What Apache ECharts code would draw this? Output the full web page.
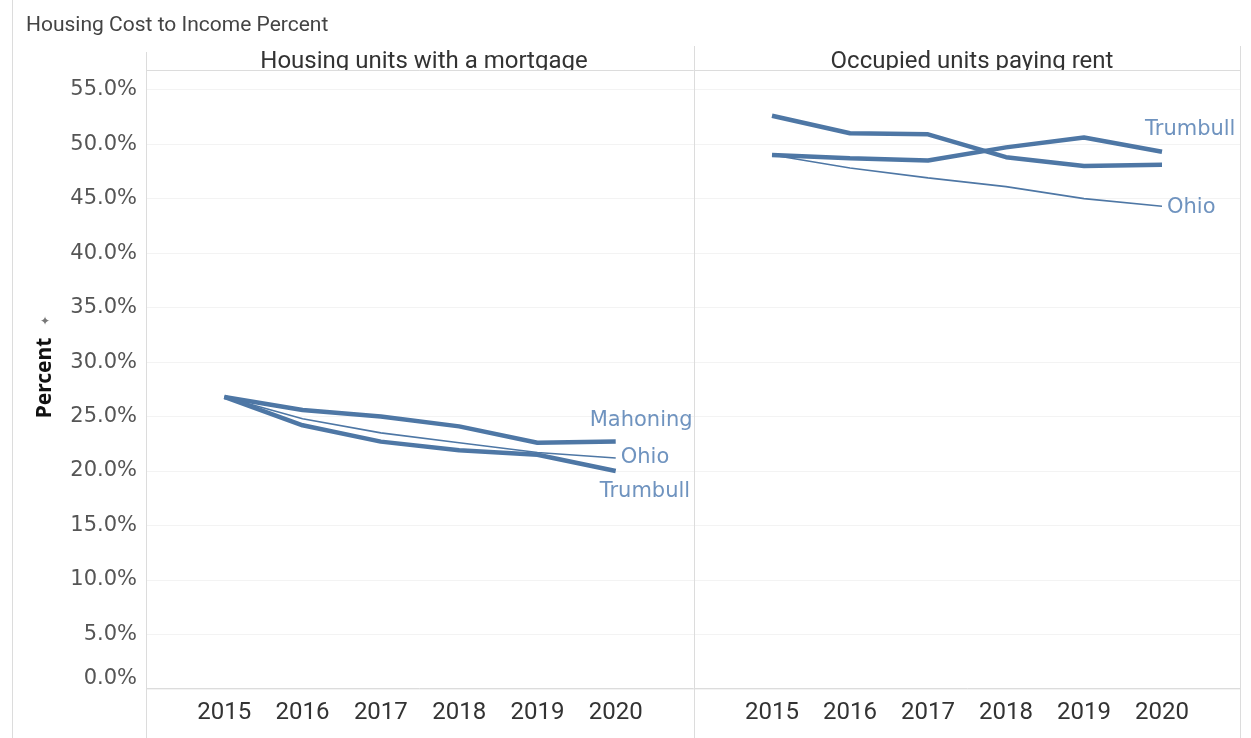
<!DOCTYPE html>
<html>
<head>
<meta charset="utf-8">
<script src="https://cdn.jsdelivr.net/npm/echarts@6/dist/echarts.min.js"></script>
<style>
  html, body { margin: 0; padding: 0; background: #fff; }
  #chart { width: 1251px; height: 738px; }
</style>
</head>
<body>
<div id="chart"></div>
<script>
  // data
  const years = [2015, 2016, 2017, 2018, 2019, 2020];
  const panels = ['Housing units with a mortgage', 'Occupied units paying rent'];

  const mortMahoning = [26.8, 25.6, 25.0, 24.1, 22.6, 22.7];
  const mortOhio = [26.8, 24.8, 23.5, 22.6, 21.7, 21.2];
  const mortTrumbull = [26.8, 24.2, 22.7, 21.9, 21.5, 20.0];

  const rentMahoning = [52.6, 51.0, 50.9, 48.8, 48.0, 48.1];
  const rentOhio = [49.0, 47.8, 46.9, 46.1, 45.0, 44.3];
  const rentTrumbull = [49.0, 48.7, 48.5, 49.7, 50.6, 49.3];

  const yTicks = [0, 5, 10, 15, 20, 25, 30, 35, 40, 45, 50, 55];

  const lineColor = '#4e77a5';
  const labelColor = '#6f93bf';
  const frameColor = '#dcdcdc';

  const pairs = vals => years.map((y, i) => [y, vals[i]]);

  const myChart = echarts.init(document.getElementById('chart'));

  function lineSeries(name, vals, idx, thick, lbl) {
    return {
      name: name,
      type: 'line',
      xAxisIndex: idx,
      yAxisIndex: idx,
      data: pairs(vals),
      symbol: 'none',
      silent: true,
      z: thick ? 3 : 2,
      lineStyle: { color: lineColor, width: thick ? 4.5 : 1.6 },
      endLabel: lbl ? {
        show: true,
        formatter: name,
        color: labelColor,
        fontFamily: 'DejaVu Sans',
        fontSize: 21,
        distance: 5,
        offset: lbl
      } : { show: false }
    };
  }

  function xAxis(idx) {
    return {
      type: 'value',
      gridIndex: idx,
      min: 2014,
      max: 2021,
      interval: 1,
      axisLine: { show: false },
      axisTick: { show: false },
      splitLine: { show: false },
      axisLabel: {
        showMinLabel: false,
        showMaxLabel: false,
        margin: 12,
        color: '#333',
        fontFamily: 'Roboto',
        fontSize: 24,
        formatter: v => String(v)
      }
    };
  }

  function yAxis(idx) {
    return {
      type: 'value',
      gridIndex: idx,
      min: 0,
      max: 56.8,
      interval: 5,
      axisLine: { show: false },
      axisTick: { show: false },
      splitLine: { show: true, lineStyle: { color: '#f3f3f3', width: 1 } },
      axisLabel: {
        show: idx === 0,
        showMaxLabel: false,
        verticalAlignMinLabel: 'bottom',
        margin: 9,
        color: '#555',
        fontFamily: 'DejaVu Sans',
        fontSize: 21,
        formatter: v => yTicks.indexOf(v) >= 0 ? v.toFixed(1) + '%' : ''
      }
    };
  }

  const options = {
    backgroundColor: '#fff',
    animation: false,
    title: [
      {
        text: 'Housing Cost to Income Percent',
        left: 21, top: 10,
        textStyle: { color: '#444', fontFamily: 'Roboto', fontSize: 21, fontWeight: 'normal' }
      },
      {
        text: panels[0],
        left: 419, top: 45, textAlign: 'center',
        textStyle: { color: '#333', fontFamily: 'Roboto', fontSize: 24, fontWeight: 'normal' }
      },
      {
        text: panels[1],
        left: 967, top: 45, textAlign: 'center',
        textStyle: { color: '#333', fontFamily: 'Roboto', fontSize: 24, fontWeight: 'normal' }
      }
    ],
    grid: [
      { left: 146, top: 70, width: 548, height: 619 },
      { left: 694, top: 70, width: 546, height: 619 }
    ],
    xAxis: [xAxis(0), xAxis(1)],
    yAxis: [yAxis(0), yAxis(1)],
    graphic: [
      // header text is cut off at the header line
      { type: 'rect', z: 10, shape: { x: 147, y: 71, width: 1093, height: 9 }, style: { fill: '#fff' } },
      // frame lines
      { type: 'line', z: 11, shape: { x1: 12.5, y1: 0, x2: 12.5, y2: 738 }, style: { stroke: frameColor } },
      { type: 'line', z: 11, shape: { x1: 146.5, y1: 52, x2: 146.5, y2: 738 }, style: { stroke: frameColor } },
      { type: 'line', z: 11, shape: { x1: 694.5, y1: 46, x2: 694.5, y2: 738 }, style: { stroke: frameColor } },
      { type: 'line', z: 11, shape: { x1: 1240.5, y1: 46, x2: 1240.5, y2: 738 }, style: { stroke: frameColor } },
      { type: 'line', z: 11, shape: { x1: 146, y1: 70.5, x2: 1241, y2: 70.5 }, style: { stroke: frameColor } },
      { type: 'line', z: 11, shape: { x1: 146, y1: 688.5, x2: 1241, y2: 688.5 }, style: { stroke: frameColor } },
      {
        type: 'text',
        x: 45, y: 378,
        rotation: Math.PI / 2,
        style: {
          text: 'Percent',
          fill: '#111',
          font: 'bold 21px "Noto Sans"',
          align: 'center',
          verticalAlign: 'middle'
        }
      },
      {
        type: 'text',
        x: 45, y: 322,
        style: { text: '✦', fill: '#777', font: '12px "DejaVu Sans"', align: 'center', verticalAlign: 'middle' }
      }
    ],
    series: [
      lineSeries('Ohio', mortOhio, 0, false, [0, 0]),
      lineSeries('Mahoning', mortMahoning, 0, true, [-31, -21]),
      lineSeries('Trumbull', mortTrumbull, 0, true, [-21, 21]),
      lineSeries('Ohio', rentOhio, 1, false, [0, 1]),
      lineSeries('Mahoning', rentMahoning, 1, true, null),
      lineSeries('Trumbull', rentTrumbull, 1, true, [-22, -22])
    ]
  };

  myChart.setOption(options);
</script>
</body>
</html>
